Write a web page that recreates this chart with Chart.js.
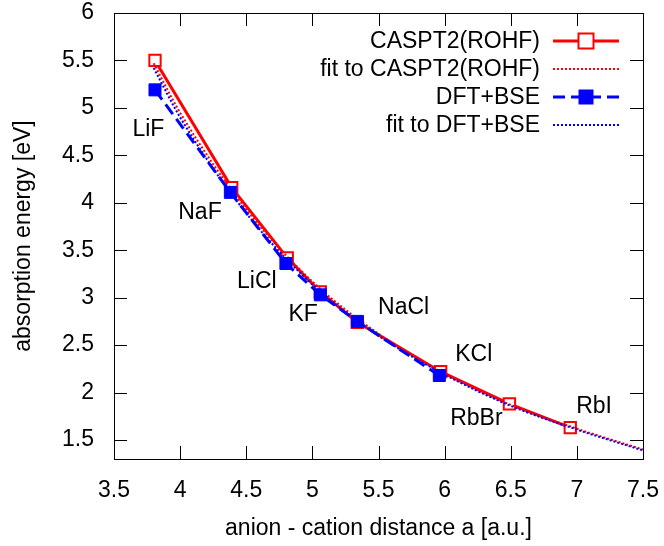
<!DOCTYPE html>
<html>
<head>
<meta charset="utf-8">
<script src="https://cdn.jsdelivr.net/npm/chart.js@4/dist/chart.umd.min.js"></script>
<style>
  html, body { margin: 0; padding: 0; background: #fff; }
  #wrap { width: 664px; height: 546px; }
</style>
</head>
<body>
<div id="wrap"><canvas id="c" width="664" height="546"></canvas></div>
<script>
// values
const saltNames = ['LiF', 'NaF', 'LiCl', 'KF', 'NaCl', 'KCl', 'RbBr', 'RbI'];
const casptX = [3.81, 4.39, 4.81, 5.06, 5.34, 5.97, 6.49, 6.95];
const casptY = [5.50, 4.16, 3.42, 3.06, 2.74, 2.22, 1.88, 1.63];
const dftX = [3.81, 4.38, 4.80, 5.06, 5.34, 5.96];
const dftY = [5.19, 4.11, 3.36, 3.03, 2.75, 2.18];
const fitX = [3.80, 4.00, 4.50, 5.00, 5.50, 6.00, 6.50, 7.00, 7.50];
const fitCasptY = [5.47, 4.95, 3.93, 3.17, 2.62, 2.20, 1.87, 1.62, 1.40];
const fitDftY = [5.42, 4.90, 3.89, 3.14, 2.60, 2.19, 1.86, 1.61, 1.39];
// where the salt names sit (data units)
const labelX = [3.76, 4.15, 4.58, 4.93, 5.69, 6.22, 6.24, 7.13];
const labelY = [4.77, 3.90, 3.17, 2.82, 2.89, 2.40, 1.72, 1.85];
const xTicks = [3.5, 4, 4.5, 5, 5.5, 6, 6.5, 7, 7.5];
const yTicks = [1.5, 2, 2.5, 3, 3.5, 4, 4.5, 5, 5.5, 6];

const FONT = '"Liberation Sans", Arial, Helvetica, sans-serif';
const FS = 23;
const pts = (xs, ys) => xs.map((x, i) => ({ x, y: ys[i] }));

// gnuplot style frame with inward ticks on all four sides
const framePlugin = {
    id: 'frame',
    beforeDatasetsDraw(chart) {
        const { ctx, chartArea: a, scales } = chart;
        ctx.save();
        ctx.strokeStyle = '#000';
        ctx.lineWidth = 1;
        const tl = 13;
        ctx.beginPath();
        xTicks.forEach(v => {
            const px = Math.round(scales.x.getPixelForValue(v)) + 0.5;
            ctx.moveTo(px, a.bottom); ctx.lineTo(px, a.bottom - tl);
            ctx.moveTo(px, a.top); ctx.lineTo(px, a.top + tl);
        });
        yTicks.forEach(v => {
            const py = Math.round(scales.y.getPixelForValue(v)) + 0.5;
            ctx.moveTo(a.left, py); ctx.lineTo(a.left + tl, py);
            ctx.moveTo(a.right, py); ctx.lineTo(a.right - tl, py);
        });
        ctx.stroke();
        ctx.strokeRect(Math.round(a.left) + 0.5, Math.round(a.top) + 0.5,
            Math.round(a.right - a.left), Math.round(a.bottom - a.top));
        ctx.restore();
    },
    afterDatasetsDraw(chart) {
        const { ctx, scales } = chart;
        ctx.save();
        ctx.fillStyle = '#000';
        ctx.font = FS + 'px ' + FONT;
        ctx.textAlign = 'center';
        ctx.textBaseline = 'middle';
        saltNames.forEach((n, i) => {
            ctx.fillText(n, scales.x.getPixelForValue(labelX[i]), scales.y.getPixelForValue(labelY[i]));
        });

        // legend: right-aligned text, sample on the right
        const textRight = 540, s0 = 553, s1 = 619, top = 41, step = 28;
        chart.data.datasets.forEach((ds, i) => {
            const y = top + i * step;
            ctx.fillStyle = '#000';
            ctx.textAlign = 'right';
            ctx.fillText(ds.label, textRight, y + 1);
            ctx.strokeStyle = ds.borderColor;
            ctx.lineWidth = ds.borderWidth;
            ctx.setLineDash(ds.borderDash || []);
            ctx.beginPath();
            ctx.moveTo(s0, y); ctx.lineTo(s1, y);
            ctx.stroke();
            ctx.setLineDash([]);
            if (ds.pointRadius > 0) {
                const r = 7.5, cx = (s0 + s1) / 2;
                if (ds.pointBackgroundColor === '#fff') {
                    ctx.fillStyle = '#fff';
                    ctx.fillRect(cx - r, y - r, 2 * r, 2 * r);
                    ctx.lineWidth = ds.pointBorderWidth;
                    ctx.strokeRect(cx - r, y - r, 2 * r, 2 * r);
                } else {
                    ctx.fillStyle = ds.borderColor;
                    ctx.fillRect(cx - r, y - r, 2 * r, 2 * r);
                }
            }
        });
        ctx.restore();
    }
};

new Chart(document.getElementById('c'), {
    type: 'scatter',
    data: {
        datasets: [
            {
                label: 'CASPT2(ROHF)',
                data: pts(casptX, casptY),
                showLine: true,
                borderColor: '#ff0000',
                borderWidth: 3,
                pointStyle: 'rect',
                pointRadius: 8,
                pointBorderWidth: 2,
                pointBackgroundColor: '#fff',
                pointBorderColor: '#ff0000',
                order: 4
            },
            {
                label: 'fit to CASPT2(ROHF)',
                data: pts(fitX, fitCasptY),
                showLine: true,
                borderColor: '#ff0000',
                borderWidth: 2,
                borderDash: [2, 2],
                pointRadius: 0,
                cubicInterpolationMode: 'monotone',
                order: 3
            },
            {
                label: 'DFT+BSE',
                data: pts(dftX, dftY),
                showLine: true,
                borderColor: '#0000ff',
                borderWidth: 3,
                borderDash: [12, 6],
                pointStyle: 'rect',
                pointRadius: 8.5,
                pointBorderWidth: 1,
                pointBackgroundColor: '#0000ff',
                pointBorderColor: '#0000ff',
                order: 2
            },
            {
                label: 'fit to DFT+BSE',
                data: pts(fitX, fitDftY),
                showLine: true,
                borderColor: '#0000ff',
                borderWidth: 2,
                borderDash: [2, 2],
                pointRadius: 0,
                cubicInterpolationMode: 'monotone',
                order: 1
            }
        ]
    },
    options: {
        responsive: false,
        animation: false,
        layout: { padding: { top: 13, right: 21, left: 0, bottom: 0 } },
        plugins: { legend: { display: false }, tooltip: { enabled: false } },
        scales: {
            x: {
                type: 'linear', min: 3.5, max: 7.5,
                grid: { display: false },
                border: { display: false },
                afterBuildTicks: s => { s.ticks = xTicks.map(v => ({ value: v })); },
                afterFit: s => { s.height = 87; s.paddingLeft = 0; s.paddingRight = 0; },
                ticks: { color: '#000', font: { family: FONT, size: FS }, padding: 10, maxRotation: 0,
                    callback: v => String(v) },
                title: { display: true, text: 'anion - cation distance a [a.u.]', color: '#000',
                    font: { family: FONT, size: FS }, padding: { top: 14 } }
            },
            y: {
                type: 'linear', min: 1.3, max: 6,
                grid: { display: false },
                border: { display: false },
                afterBuildTicks: s => { s.ticks = yTicks.map(v => ({ value: v })); },
                afterFit: s => { s.width = 114; s.paddingTop = 0; s.paddingBottom = 0; },
                ticks: { color: '#000', font: { family: FONT, size: FS }, padding: 12,
                    callback: v => String(v) },
                title: { display: true, text: 'absorption energy [eV]', color: '#000',
                    font: { family: FONT, size: FS }, padding: { top: 10, bottom: 0 } }
            }
        }
    },
    plugins: [framePlugin]
});
</script>
</body>
</html>
